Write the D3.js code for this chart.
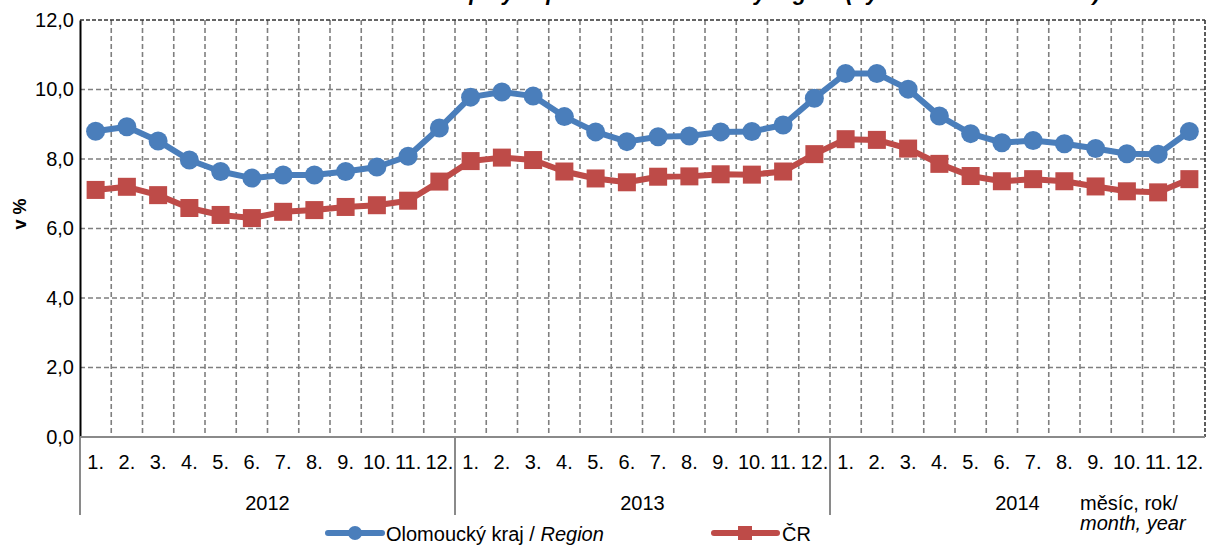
<!DOCTYPE html>
<html><head><meta charset="utf-8">
<script src="https://cdn.jsdelivr.net/npm/d3@7"></script>
<style>
body{margin:0;background:#fff}
svg{display:block;font-family:"Liberation Sans",Arial,sans-serif}
</style>
</head><body>
<svg id="c" width="1211" height="545"></svg>
<script>
const years = ["2012", "2013", "2014"];
const months = ["1.", "2.", "3.", "4.", "5.", "6.", "7.", "8.", "9.", "10.", "11.", "12."];
const regionValues = [
  8.8, 8.93, 8.52, 7.97, 7.64, 7.45, 7.54, 7.54, 7.64, 7.77, 8.08, 8.89,
  9.78, 9.93, 9.81, 9.22, 8.78, 8.5, 8.64, 8.66, 8.78, 8.79, 8.98, 9.75,
  10.46, 10.46, 10.01, 9.24, 8.73, 8.47, 8.53, 8.44, 8.3, 8.15, 8.14, 8.79
];
const crValues = [
  7.11, 7.2, 6.96, 6.59, 6.39, 6.3, 6.48, 6.53, 6.62, 6.67, 6.8, 7.35,
  7.94, 8.04, 7.97, 7.64, 7.44, 7.33, 7.49, 7.5, 7.56, 7.55, 7.64, 8.14,
  8.57, 8.55, 8.3, 7.86, 7.51, 7.36, 7.42, 7.36, 7.21, 7.07, 7.04, 7.42
];
const yTicks = [0, 2, 4, 6, 8, 10, 12];
const seriesNames = ["Olomoucký kraj / ", "Region", "ČR"];
const axisTitleX = ["měsíc, rok/", "month, year"];
const yTitle = "v %";
const chartTitle = "Share of unemployed persons in the ČR by region (by months 2012 – 2014)";

const blue = "#4a7ebb", red = "#be4b48";
const svg = d3.select("#c");
const keys = [];
years.forEach(yr => months.forEach(m => keys.push(yr + "-" + m)));

const L = 80, R = 1205, T = 20, B = 437;
const x = d3.scaleBand().domain(keys).range([L, R]).padding(0);
const y = d3.scaleLinear().domain([0, 12]).range([B, T]);
const bw = x.bandwidth();
const cx = k => x(k) + bw / 2;

// title (clipped at top, only descenders visible as in reference)
svg.append("text").attr("x", 1100).attr("y", 0).attr("text-anchor", "end")
  .attr("font-size", 22).attr("font-style", "italic").attr("font-weight", "bold")
  .text(chartTitle);

// gridlines
const gridColor = "#7f7f7f";
const grid = svg.append("g");
grid.selectAll("line.h").data(yTicks.filter(t => t > 0 && t < 12)).join("line")
  .attr("x1", L).attr("x2", R).attr("y1", d => y(d)).attr("y2", d => y(d))
  .attr("stroke", gridColor).attr("stroke-width", 1.6).attr("stroke-dasharray", "5,3");
grid.selectAll("line.v").data(keys.slice(1)).join("line")
  .attr("x1", d => x(d)).attr("x2", d => x(d)).attr("y1", T).attr("y2", B)
  .attr("stroke", gridColor).attr("stroke-width", 1.6).attr("stroke-dasharray", "5,3");
// top and right border
grid.append("line").attr("x1", L).attr("x2", R).attr("y1", y(12)).attr("y2", y(12))
  .attr("stroke", "#333").attr("stroke-width", 1.6).attr("stroke-dasharray", "4,2");
grid.append("line").attr("x1", R).attr("x2", R).attr("y1", T).attr("y2", B)
  .attr("stroke", "#333").attr("stroke-width", 1.6).attr("stroke-dasharray", "4,2");

// y axis
const yAxis = d3.axisLeft(y).tickValues(yTicks).tickSize(0).tickPadding(6)
  .tickFormat(d => d3.format(".1f")(d).replace(".", ","));
const gy = svg.append("g").attr("transform", `translate(${L},0)`).call(yAxis);
gy.select(".domain").attr("stroke", "#000").attr("stroke-width", 2);
gy.selectAll("text").attr("font-size", 20).attr("fill", "#000")
  .attr("font-family", "Liberation Sans, Arial, sans-serif");

svg.append("text").attr("transform", "translate(26,214) rotate(-90)")
  .attr("text-anchor", "middle").attr("font-size", 18).attr("font-weight", "bold").text(yTitle);

// x axis (multi-level)
const gx = svg.append("g");
gx.append("line").attr("x1", L).attr("x2", R).attr("y1", B).attr("y2", B)
  .attr("stroke", "#8a8a8a").attr("stroke-width", 2);
gx.selectAll("line.sep").data(years).join("line")
  .attr("x1", d => x(d + "-1.")).attr("x2", d => x(d + "-1."))
  .attr("y1", B).attr("y2", 515).attr("stroke", "#8a8a8a").attr("stroke-width", 2);
gx.selectAll("text.m").data(keys).join("text")
  .attr("x", d => cx(d)).attr("y", 469).attr("text-anchor", "middle")
  .attr("font-size", 20).text(d => d.split("-")[1]);
gx.selectAll("text.yr").data(years).join("text")
  .attr("x", d => (x(d + "-1.") + x(d + "-12.") + bw) / 2).attr("y", 510)
  .attr("text-anchor", "middle").attr("font-size", 20).text(d => d);
gx.append("text").attr("x", 1080).attr("y", 510).attr("font-size", 20).text(axisTitleX[0]);
gx.append("text").attr("x", 1080).attr("y", 530).attr("font-size", 20)
  .attr("font-style", "italic").text(axisTitleX[1]);

// lines
const line = d3.line().x((d, i) => cx(keys[i])).y(d => y(d));
svg.append("path").datum(crValues).attr("d", line).attr("fill", "none")
  .attr("stroke", red).attr("stroke-width", 6).attr("stroke-linejoin", "round");
svg.selectAll("rect.cr").data(crValues).join("rect")
  .attr("x", (d, i) => cx(keys[i]) - 9).attr("y", d => y(d) - 9)
  .attr("width", 18).attr("height", 18).attr("fill", red);
svg.append("path").datum(regionValues).attr("d", line).attr("fill", "none")
  .attr("stroke", blue).attr("stroke-width", 6).attr("stroke-linejoin", "round");
svg.selectAll("circle.rg").data(regionValues).join("circle")
  .attr("cx", (d, i) => cx(keys[i])).attr("cy", d => y(d)).attr("r", 9.5).attr("fill", blue);

// legend
const lg = svg.append("g");
lg.append("line").attr("x1", 328).attr("x2", 382).attr("y1", 533).attr("y2", 533)
  .attr("stroke", blue).attr("stroke-width", 6).attr("stroke-linecap", "round");
lg.append("circle").attr("cx", 355).attr("cy", 533).attr("r", 7).attr("fill", blue);
const t1 = lg.append("text").attr("x", 386).attr("y", 541).attr("font-size", 20);
t1.append("tspan").text(seriesNames[0]);
t1.append("tspan").attr("font-style", "italic").text(seriesNames[1]);
lg.append("line").attr("x1", 714).attr("x2", 777).attr("y1", 533).attr("y2", 533)
  .attr("stroke", red).attr("stroke-width", 6).attr("stroke-linecap", "round");
lg.append("rect").attr("x", 738).attr("y", 526).attr("width", 14).attr("height", 14).attr("fill", red);
lg.append("text").attr("x", 782).attr("y", 541).attr("font-size", 20).text(seriesNames[2]);
</script>
</body></html>
